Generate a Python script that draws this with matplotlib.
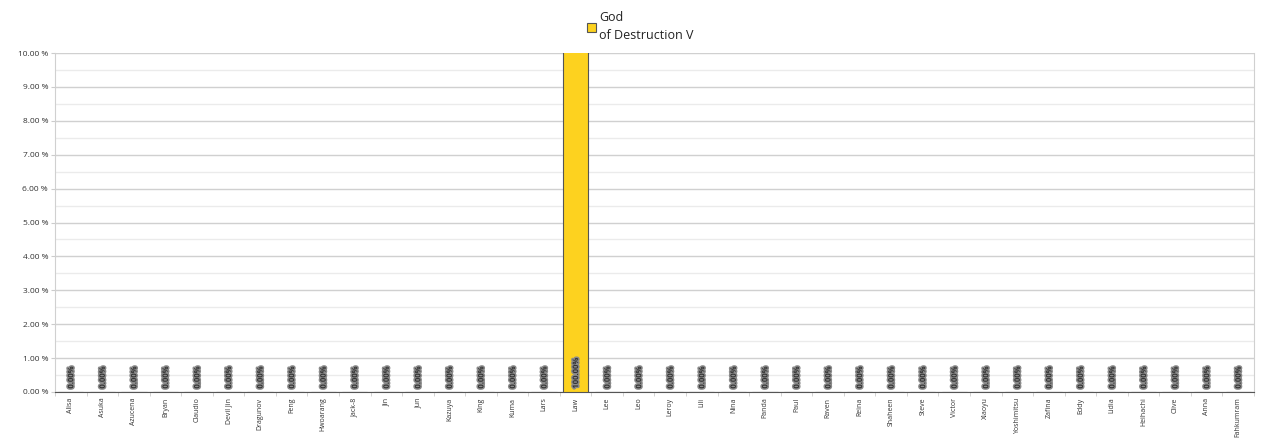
import matplotlib
matplotlib.use("Agg")
import matplotlib.pyplot as plt
import matplotlib.patheffects as pe
from matplotlib.ticker import MultipleLocator, FuncFormatter
import numpy as np

categories = ["Alisa", "Asuka", "Azucena", "Bryan", "Claudio", "Devil Jin", "Dragunov", "Feng",
              "Hwoarang", "Jack-8", "Jin", "Jun", "Kazuya", "King", "Kuma", "Lars", "Law", "Lee",
              "Leo", "Leroy", "Lili", "Nina", "Panda", "Paul", "Raven", "Reina", "Shaheen", "Steve",
              "Victor", "Xiaoyu", "Yoshimitsu", "Zafina", "Eddy", "Lidia", "Heihachi", "Clive",
              "Anna", "Fahkumram"]
values = [0.0] * 16 + [100.0] + [0.0] * 21
series_name = "God\nof Destruction V"

plt.rcParams['font.family'] = ['Open Sans', 'DejaVu Sans']
fig = plt.figure(figsize=(12.8, 4.41), dpi=100)
ax = fig.add_axes([55/1280, 1 - 392/441, (1254-55)/1280, (392-53)/441])

x = np.arange(len(categories))
bars = ax.bar(x, values, width=0.8, color="#FDD21F", edgecolor="#555555", linewidth=0.8,
              label=series_name, zorder=3)

ax.set_xlim(-0.5, len(categories) - 0.5)
ax.set_ylim(0, 10)
ax.yaxis.set_major_locator(MultipleLocator(1))
ax.yaxis.set_minor_locator(MultipleLocator(0.5))
ax.yaxis.set_major_formatter(FuncFormatter(lambda v, p: f"{v:.2f} %"))
ax.grid(axis='y', which='major', color="#d0d0d0", linewidth=1.0, zorder=0)
ax.grid(axis='y', which='minor', color="#ebebeb", linewidth=1.0, zorder=0)
ax.tick_params(axis='y', which='major', labelsize=6, length=3, color="#cccccc", labelcolor="#333333", pad=2)
ax.tick_params(axis='y', which='minor', length=0)

ax.set_xticks(x)
ax.set_xticklabels(categories, rotation=90, fontsize=5, color="#333333")
ax.set_xticks(np.arange(len(categories) + 1) - 0.5, minor=True)
ax.tick_params(axis='x', which='major', length=0, pad=4)
ax.tick_params(axis='x', which='minor', length=3, color="#cccccc")

for s in ["left", "right", "top"]:
    ax.spines[s].set_color("#d0d0d0")
ax.spines["top"].set_visible(False)
ax.spines["bottom"].set_color("#555555")
ax.spines["bottom"].set_linewidth(0.8)

for xi, v in zip(x, values):
    ax.text(xi, 0.1, f"{v:.2f}%", rotation=90, ha='center', va='bottom', fontsize=5.5,
            color="#333333", zorder=4, clip_on=False, fontweight='bold',
            path_effects=[pe.withStroke(linewidth=2.2, foreground="#8a8a8a")])

leg = fig.legend(loc='upper center', bbox_to_anchor=(0.5, 1.0), frameon=False, fontsize=9,
                 handlelength=0.75, handleheight=0.75, handletextpad=0.25, labelspacing=0.3)
for t in leg.get_texts():
    t.set_color("#222222")
    t.set_linespacing(1.45)

fig.savefig("out.png", dpi=100)
